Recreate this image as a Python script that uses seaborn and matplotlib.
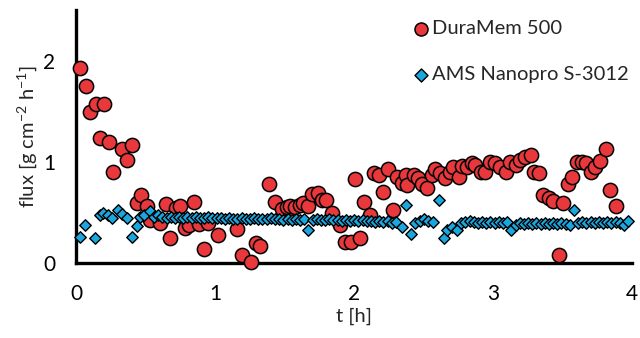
import matplotlib
matplotlib.use("Agg")
import matplotlib.pyplot as plt
import seaborn as sns
import pandas as pd

# DuraMem 500 flux over time
dura_t = [0.03, 0.07, 0.10, 0.14, 0.168, 0.20, 0.237, 0.268, 0.333, 0.369,
          0.405, 0.437, 0.468, 0.513, 0.53, 0.60, 0.645, 0.676, 0.717, 0.75,
          0.784, 0.81, 0.849, 0.88, 0.916, 0.95, 1.02, 1.156, 1.19, 1.257,
          1.29, 1.32, 1.39, 1.427, 1.48, 1.516, 1.54, 1.575, 1.61, 1.635,
          1.67, 1.695, 1.74, 1.77, 1.80, 1.84, 1.90, 1.935, 1.98, 2.007,
          2.04, 2.07, 2.115, 2.14, 2.175, 2.21, 2.24, 2.28, 2.31, 2.34,
          2.37, 2.38, 2.43, 2.46, 2.49, 2.52, 2.56, 2.58, 2.62, 2.65,
          2.69, 2.71, 2.75, 2.775, 2.81, 2.85, 2.87, 2.91, 2.94, 2.98,
          3.01, 3.05, 3.09, 3.12, 3.16, 3.19, 3.23, 3.27, 3.295, 3.33,
          3.36, 3.40, 3.43, 3.47, 3.505, 3.54, 3.565, 3.60, 3.64, 3.67,
          3.70, 3.73, 3.77, 3.81, 3.84, 3.88]
dura_flux = [1.93, 1.75, 1.49, 1.57, 1.235, 1.57, 1.20, 0.90, 1.13, 1.02,
             1.17, 0.59, 0.67, 0.56, 0.43, 0.40, 0.58, 0.245, 0.54, 0.56,
             0.35, 0.38, 0.60, 0.39, 0.14, 0.40, 0.28, 0.34, 0.08, 0.013,
             0.195, 0.17, 0.78, 0.607, 0.535, 0.55, 0.56, 0.55, 0.57, 0.59,
             0.56, 0.68, 0.69, 0.62, 0.625, 0.49, 0.38, 0.21, 0.21, 0.83,
             0.25, 0.60, 0.475, 0.895, 0.87, 0.70, 0.93, 0.525, 0.855, 0.79,
             0.87, 0.77, 0.87, 0.84, 0.78, 0.74, 0.87, 0.93, 0.89, 0.84,
             0.90, 0.95, 0.855, 0.96, 0.95, 0.99, 0.97, 0.90, 0.90, 1.00,
             0.99, 0.95, 0.90, 1.00, 0.97, 1.02, 1.05, 1.07, 0.90, 0.89,
             0.67, 0.64, 0.61, 0.08, 0.59, 0.78, 0.855, 1.00, 1.00, 0.99,
             0.90, 0.95, 1.01, 1.13, 0.72, 0.56]

# AMS Nanopro S-3012 flux over time
ams_t = [0.03, 0.065, 0.135, 0.17, 0.195, 0.23, 0.26, 0.30, 0.33, 0.365,
         0.40, 0.437, 0.46, 0.49, 0.53, 0.56, 0.59, 0.62, 0.65, 0.68,
         0.71, 0.74, 0.77, 0.80, 0.83, 0.86, 0.89, 0.92, 0.95, 0.98,
         1.01, 1.04, 1.07, 1.10, 1.13, 1.16, 1.19, 1.22, 1.25, 1.28,
         1.31, 1.34, 1.37, 1.40, 1.43, 1.46, 1.49, 1.52, 1.55, 1.58,
         1.61, 1.64, 1.67, 1.70, 1.73, 1.76, 1.79, 1.82, 1.85, 1.88,
         1.91, 1.94, 1.97, 2.00, 2.03, 2.06, 2.09, 2.12, 2.15, 2.18,
         2.21, 2.24, 2.27, 2.30, 2.34, 2.37, 2.41, 2.44, 2.47, 2.50,
         2.53, 2.57, 2.61, 2.645, 2.67, 2.70, 2.74, 2.77, 2.80, 2.83,
         2.86, 2.89, 2.92, 2.95, 2.98, 3.01, 3.04, 3.07, 3.10, 3.13,
         3.16, 3.19, 3.22, 3.25, 3.28, 3.31, 3.34, 3.37, 3.40, 3.43,
         3.46, 3.49, 3.52, 3.55, 3.58, 3.61, 3.64, 3.67, 3.70, 3.73,
         3.76, 3.79, 3.82, 3.85, 3.88, 3.91, 3.94, 3.97]
ams_flux = [0.26, 0.38, 0.245, 0.475, 0.49, 0.47, 0.445, 0.52, 0.48, 0.45,
            0.26, 0.37, 0.46, 0.47, 0.51, 0.46, 0.47, 0.46, 0.45, 0.46,
            0.45, 0.46, 0.45, 0.46, 0.45, 0.46, 0.45, 0.45, 0.46, 0.45,
            0.45, 0.45, 0.44, 0.45, 0.44, 0.44, 0.45, 0.44, 0.44, 0.45,
            0.44, 0.44, 0.44, 0.45, 0.44, 0.44, 0.43, 0.44, 0.43, 0.44,
            0.43, 0.44, 0.33, 0.43, 0.44, 0.43, 0.43, 0.44, 0.43, 0.43,
            0.42, 0.43, 0.42, 0.43, 0.42, 0.43, 0.42, 0.42, 0.41, 0.42,
            0.41, 0.42, 0.40, 0.41, 0.36, 0.57, 0.29, 0.40, 0.42, 0.44,
            0.42, 0.41, 0.62, 0.245, 0.33, 0.36, 0.33, 0.40, 0.41, 0.42,
            0.41, 0.40, 0.41, 0.40, 0.41, 0.40, 0.41, 0.40, 0.41, 0.33,
            0.38, 0.40, 0.39, 0.40, 0.39, 0.40, 0.39, 0.40, 0.39, 0.40,
            0.39, 0.40, 0.39, 0.38, 0.52, 0.40, 0.41, 0.40, 0.41, 0.40,
            0.41, 0.40, 0.41, 0.40, 0.41, 0.40, 0.38, 0.42]

x_ticks = [0, 1, 2, 3, 4]
y_ticks = [0, 1, 2]

dura = pd.DataFrame({"t": dura_t, "flux": dura_flux})
ams = pd.DataFrame({"t": ams_t, "flux": ams_flux})

sns.set_style("white")
plt.rcParams["font.family"] = ["Lato", "DejaVu Sans"]
plt.rcParams["mathtext.default"] = "regular"

fig = plt.figure(figsize=(6.4, 3.38), dpi=100)
ax = fig.add_axes([0.119, 0.222, 0.869, 0.747])

sns.scatterplot(data=dura, x="t", y="flux", ax=ax, marker="o", s=105,
                color="#E8383B", edgecolor="black", linewidth=1.1,
                label="DuraMem 500", clip_on=False, zorder=3)
sns.scatterplot(data=ams, x="t", y="flux", ax=ax, marker="D", s=34,
                color="#1AA6DE", edgecolor="black", linewidth=1.0,
                label="AMS Nanopro S-3012", clip_on=False, zorder=4)

ax.set_xlim(0, 4)
ax.set_ylim(0, 2.5)
ax.set_xticks(x_ticks)
ax.set_yticks(y_ticks)
ax.set_xticklabels([str(v) for v in x_ticks])
ax.set_yticklabels([str(v) for v in y_ticks])
ax.tick_params(axis="both", direction="out", length=6, width=2.2,
               labelsize=15, colors="black", pad=9)

sns.despine(ax=ax)
for side in ("left", "bottom"):
    ax.spines[side].set_linewidth(2.4)
    ax.spines[side].set_color("black")

ax.set_xlabel("t [h]", fontsize=14.5, labelpad=3)
ax.set_ylabel("flux [g cm$^{-2}$ h$^{-1}$]", fontsize=14.5, labelpad=3)

leg = ax.legend(loc="upper left", bbox_to_anchor=(0.587, 0.995), frameon=False,
                fontsize=14.5, handletextpad=0.05, labelspacing=1.45,
                handlelength=1.0, borderaxespad=0)
leg.legend_handles[0].set_sizes([88])
leg.legend_handles[1].set_sizes([44])

fig.savefig("out.png", dpi=100)
